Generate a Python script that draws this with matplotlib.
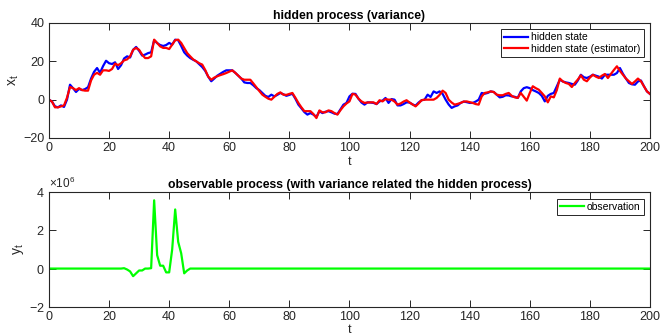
import matplotlib.pyplot as plt
from matplotlib.ticker import ScalarFormatter

plt.rcParams['font.family'] = ['Liberation Sans', 'DejaVu Sans']
plt.rcParams['mathtext.fontset'] = 'custom'
plt.rcParams['mathtext.rm'] = 'Liberation Sans'

# time axis 0..200
t = list(range(201))

# hidden state (blue)
hidden = [
    0, -1, -3.5, -4, -3, -3.8, 0, 7.8, 6, 4,
    5.6, 5, 5.5, 6.5, 11, 14.5, 16.5, 14, 17.5, 20.3,
    19, 18.6, 19.5, 16, 18, 21.5, 22.6, 22, 26, 27.5,
    25.5, 23, 23.5, 24.3, 24.7, 31, 29.5, 28.5, 28, 28.5,
    29.6, 28.7, 31.3, 31, 28, 24.7, 23, 21.7, 20.8, 20,
    18.5, 17, 15, 12, 9.6, 11, 12.5, 13.5, 14.5, 15.3,
    15.3, 15.3, 14, 12.5, 11, 9, 8.7, 8.7, 7.5, 6,
    5, 3.5, 2, 1.4, 2.6, 1.7, 2.5, 3.5, 2.8, 2,
    2.5, 3.1, 0.5, -2.6, -4.5, -6.5, -7.8, -7, -7.8, -9,
    -6, -7, -6.3, -6, -6.6, -7.3, -7.5, -5, -2.6, -1.7,
    1.7, 3.1, 3, 0.5, -1.5, -2.6, -1.4, -1.5, -1.7, -2.3,
    -0.9, -0.5, 0.9, -1.7, 0.3, 0, -3, -3, -2.3, -1.4,
    -1.5, -2.5, -3.1, -1.5, -0.3, 0, 2.6, 1.4, 4.3, 3.5,
    4.3, 3, 0, -2.5, -4.3, -3.5, -3, -1.7, -1, -1.3,
    -1.7, -1.7, -1, 0, 3.5, 3.1, 3.5, 4.3, 4, 2.6,
    1.2, 1.5, 2.3, 2.2, 1.7, 1.5, 0.9, 4.3, 6, 6.5,
    6, 5, 4.3, 3.5, 2, -0.9, 2, 3, 3.5, 7,
    10.4, 9.5, 9, 8.7, 8.2, 7.8, 10, 13, 11.7, 11.3,
    12, 13, 12.5, 12, 11, 13, 13, 13, 13, 13.9,
    16.5, 13.5, 11, 8.7, 8, 7.8, 9.5, 10, 7, 4.3,
    3,
]

# hidden state estimate (red)
estimate = [
    0, -1, -4, -4, -3.5, -3, 1, 6.6, 6, 5,
    6, 5, 4.7, 4.7, 10, 13, 14, 13, 15.3, 15.3,
    15, 16, 18.8, 18, 19, 20.5, 21, 22.6, 26, 27,
    26, 23.5, 21.7, 21.7, 22.6, 31.3, 29.6, 27.8, 27, 27,
    26.4, 28.7, 31, 31.3, 29.6, 27, 24.3, 22.6, 21, 20,
    19, 18.3, 15.5, 12, 10.4, 11.5, 12.2, 12.8, 13.3, 13.9,
    14.6, 15.3, 14, 12.5, 11, 10.4, 10.4, 10.4, 8.5, 6.5,
    4.5, 2.6, 1.5, 0.5, 0, 1.5, 3, 3.8, 2.6, 2.5,
    3, 3.5, 1, -1.7, -4, -6, -6, -6, -7.5, -9.6,
    -5.6, -6.6, -6.6, -5.6, -6, -7, -7.8, -5.5, -3.5, -2,
    -0.9, 3, 2.6, 0.5, -0.9, -1.7, -1.5, -1.4, -1.4, -2.3,
    -0.3, -0.9, 0.3, 0, 0, -1, -2.6, -2, -1, -0.3,
    -1.5, -2.5, -3.5, -2, -0.3, 0, 0, 0, 0, 0.9,
    2.5, 4.7, 3.5, 0, -1.5, -2.6, -2.2, -1.7, -1, -0.9,
    -1.3, -1.7, -2.3, -2.6, 1.7, 3.5, 3.8, 4.3, 4, 2.6,
    2.3, 2.3, 3, 3.5, 2, 1.2, 0.9, 3.5, 1.5, -0.5,
    3.5, 7, 6, 5.2, 3.5, 1.7, -1.4, 1.7, 1.2, 5,
    11, 9.5, 8.7, 8.2, 6.6, 8.7, 10.5, 12.7, 10.4, 9.6,
    11.5, 13, 12, 11.3, 12.5, 13.4, 11.3, 13.4, 15.5, 17.4,
    15, 13, 11, 9.6, 8.2, 9.5, 11, 9.6, 7, 4.3,
    3,
]

# observation (green), in units of 1e6
observation = [
    0, 0, 0, 0, 0, 0, 0, 0, 0, 0,
    0, 0, 0, 0, 0, 0, 0, 0, 0, 0,
    0, 0, 0, 0, 0, 0.02, -0.05, -0.15, -0.4, -0.25,
    -0.1, -0.1, 0, 0, 0.02, 3.58, 0.7, 0.15, 0.15, -0.2,
    -0.2, 1.0, 3.1, 1.4, 0.8, -0.25, -0.1, 0, 0, 0,
    0, 0, 0, 0, 0, 0, 0, 0, 0, 0,
    0, 0, 0, 0, 0, 0, 0, 0, 0, 0,
    0, 0, 0, 0, 0, 0, 0, 0, 0, 0,
    0, 0, 0, 0, 0, 0, 0, 0, 0, 0,
    0, 0, 0, 0, 0, 0, 0, 0, 0, 0,
    0, 0, 0, 0, 0, 0, 0, 0, 0, 0,
    0, 0, 0, 0, 0, 0, 0, 0, 0, 0,
    0, 0, 0, 0, 0, 0, 0, 0, 0, 0,
    0, 0, 0, 0, 0, 0, 0, 0, 0, 0,
    0, 0, 0, 0, 0, 0, 0, 0, 0, 0,
    0, 0, 0, 0, 0, 0, 0, 0, 0, 0,
    0, 0, 0, 0, 0, 0, 0, 0, 0, 0,
    0, 0, 0, 0, 0, 0, 0, 0, 0, 0,
    0, 0, 0, 0, 0, 0, 0, 0, 0, 0,
    0, 0, 0, 0, 0, 0, 0, 0, 0, 0,
    0,
]
observation = [v * 1e6 for v in observation]

x_ticks = list(range(0, 201, 20))
top_yticks = [-20, 0, 20, 40]
bottom_yticks = [-2e6, 0, 2e6, 4e6]

AXC = '#262626'


def style_axes(ax):
    for s in ax.spines.values():
        s.set_color(AXC)
        s.set_linewidth(0.8)
    ax.tick_params(direction='in', top=True, right=True, length=5,
                   width=0.7, colors=AXC, labelsize=9, pad=3)
    ax.set_xlim(0, 200)
    ax.set_xticks(x_ticks)


fig = plt.figure(figsize=(6.6, 3.36), dpi=100)

ax1 = fig.add_axes([0.0742, 0.5893, 0.9106, 0.3423])
ax1.plot(t, hidden, color=(0, 0, 1), lw=1.6, label='hidden state')
ax1.plot(t, estimate, color=(1, 0, 0), lw=1.6, label='hidden state (estimator)')
style_axes(ax1)
ax1.set_ylim(-20, 40)
ax1.set_yticks(top_yticks)
ax1.set_title('hidden process (variance)', fontsize=8.8, fontweight='bold', pad=3)
ax1.set_xlabel('t', fontsize=9, color=AXC, labelpad=1)
ax1.set_ylabel(r'$\mathregular{x_t}$', fontsize=10, color=AXC, labelpad=2)
leg = ax1.legend(loc='upper right', fontsize=7.5, fancybox=False, framealpha=1,
                 edgecolor=AXC, borderpad=0.3, handlelength=2.3, handletextpad=0.3,
                 labelspacing=0.15, borderaxespad=0.6)
leg.get_frame().set_linewidth(0.7)

ax2 = fig.add_axes([0.0742, 0.0872, 0.9106, 0.3405])
ax2.plot(t, observation, color=(0, 1, 0), lw=1.6, label='observation')
style_axes(ax2)
ax2.set_ylim(-2e6, 4e6)
ax2.set_yticks(bottom_yticks)
fmt = ScalarFormatter(useMathText=True)
fmt.set_powerlimits((0, 0))
ax2.yaxis.set_major_formatter(fmt)
ax2.yaxis.get_offset_text().set_fontsize(8.5)
ax2.yaxis.get_offset_text().set_color(AXC)
ax2.set_title('observable process (with variance related the hidden process)',
              fontsize=8.8, fontweight='bold', pad=3)
ax2.set_xlabel('t', fontsize=9, color=AXC, labelpad=1)
ax2.set_ylabel(r'$\mathregular{y_t}$', fontsize=10, color=AXC, labelpad=2)
leg2 = ax2.legend(loc='upper right', fontsize=7.5, fancybox=False, framealpha=1,
                  edgecolor=AXC, borderpad=0.3, handlelength=2.3, handletextpad=0.3,
                  borderaxespad=0.6)
leg2.get_frame().set_linewidth(0.7)

fig.savefig('out.png', dpi=100)
